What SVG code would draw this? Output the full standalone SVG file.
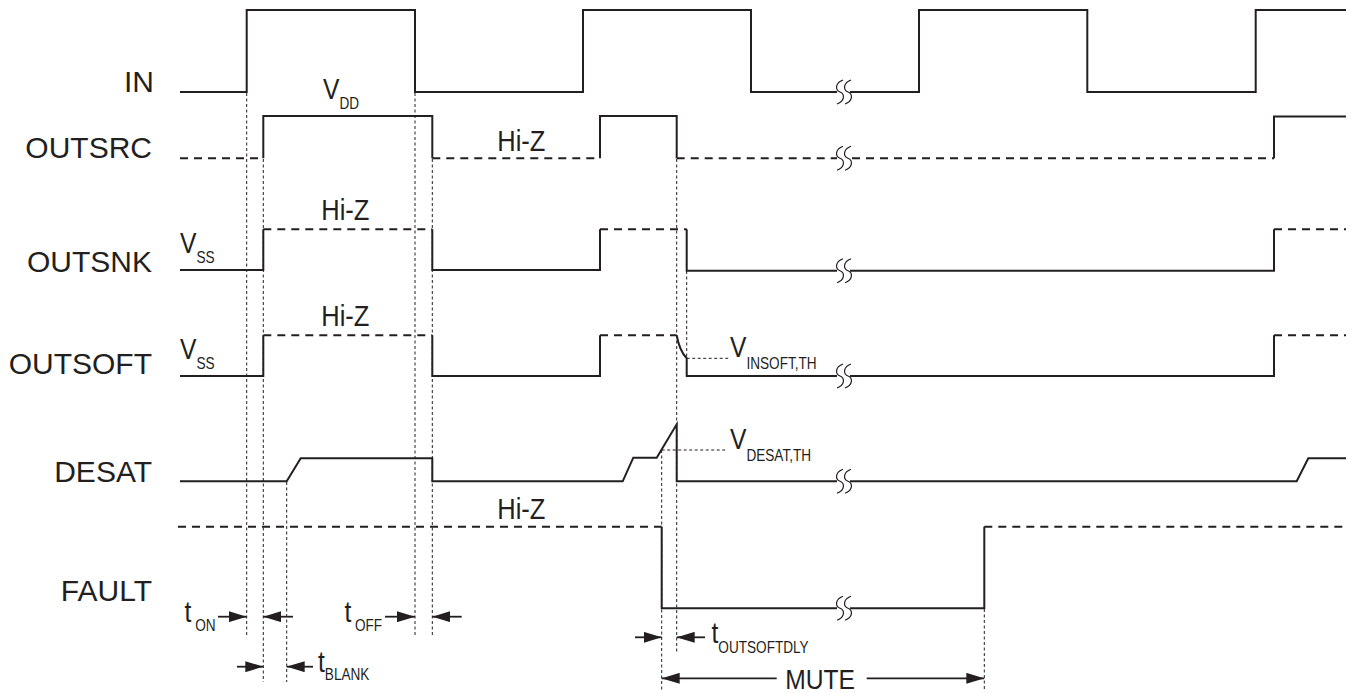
<svg xmlns="http://www.w3.org/2000/svg" width="1351" height="693" viewBox="0 0 1351 693">
<style>
.sig{fill:none;stroke:#231f20;stroke-width:2;stroke-linejoin:miter}
.dash{fill:none;stroke:#231f20;stroke-width:2;stroke-dasharray:8 6}
.dot{fill:none;stroke:#231f20;stroke-width:1;stroke-dasharray:3 2.5}
.brk{fill:none;stroke:#231f20;stroke-width:1.2}
.arr{fill:none;stroke:#231f20;stroke-width:1.8;marker-end:url(#ah)}
.lbl{font-family:"Liberation Sans",Arial,sans-serif;font-size:30px;fill:#231f20;text-anchor:end}
.sym{font-family:"Liberation Sans",Arial,sans-serif;font-size:29px;fill:#231f20}
.hz{font-family:"Liberation Sans",Arial,sans-serif;font-size:30px;fill:#231f20}
.sub{font-size:16px}
</style>
<defs>
<marker id="ah" markerUnits="userSpaceOnUse" markerWidth="18" markerHeight="11" refX="18" refY="5.5" orient="auto"><path d="M0,0 L18,5.5 L0,11 z" fill="#231f20"/></marker>
<path id="brk" class="brk" d="M3,-12 C-5,-9 -5,-2 0,0 S5,9 -3,12"/>
</defs>
<rect width="1351" height="693" fill="#fff"/>

<g id="connectors">
<path class="dot" d="M246.7,93 V635 M263.3,159 V682 M286.7,482 V682 M415,93 V636 M432.3,159 V636 M676.7,159 V652 M686.7,271 V358.3 M661.7,450 V690 M984.3,609 V690"/>
<path class="dot" d="M686.7,358.3 H730 M661.7,450 H727"/>
<path class="arr" d="M218,616.7 H246.7"/>
<path class="arr" d="M293,616.7 H263.3"/>
<path class="arr" d="M385,616.7 H415"/>
<path class="arr" d="M461.7,616.7 H432.3"/>
<path class="arr" d="M237,666.7 H263.3"/>
<path class="arr" d="M313,666.7 H286.7"/>
<path class="arr" d="M635,637.3 H661.7"/>
<path class="arr" d="M705,637.3 H676.7"/>
<path class="arr" d="M776.7,678.3 H661.7"/>
<path class="arr" d="M866.7,678.3 H984.3"/>
<text class="sym" transform="translate(184.5,621.7) scale(0.85,1)">t<tspan class="sub" dx="4.5" dy="9">ON</tspan></text>
<text class="sym" transform="translate(344.5,621.7) scale(0.85,1)">t<tspan class="sub" dx="4.3" dy="9">OFF</tspan></text>
<text class="sym" transform="translate(318,671.7) scale(0.85,1)">t<tspan class="sub" dy="8.5">BLANK</tspan></text>
<text class="sym" transform="translate(711.5,643.3) scale(0.85,1)">t<tspan class="sub" dy="9.5">OUTSOFTDLY</tspan></text>
<text class="sym" transform="translate(785.2,689.3) scale(0.88,1)" style="font-size:28px">MUTE</text>
</g>

<g id="IN">
<text class="lbl" x="154" y="92">IN</text>
<path class="sig" d="M180,92 H246.7 V10 H415 V92 H583 V10 H751 V92 H837"/>
<path class="sig" d="M850,92 H919 V10 H1087.3 V92 H1255.7 V10 H1346"/>
<use href="#brk" x="840" y="92"/><use href="#brk" x="848" y="92"/>
</g>

<g id="OUTSRC">
<text class="lbl" x="152" y="158">OUTSRC</text>
<path class="dash" d="M180,158.3 H263.3"/>
<path class="sig" d="M263.3,158.3 V116 H432.3 V158.3"/>
<path class="dash" d="M432.3,158.3 H600"/>
<path class="sig" d="M600,158.3 V116 H676.7 V158.3"/>
<path class="dash" d="M676.7,158.3 H837"/>
<path class="dash" d="M852,158.3 H1274"/>
<path class="sig" d="M1274,158.3 V116.5 H1346"/>
<use href="#brk" x="840" y="158.3"/><use href="#brk" x="848" y="158.3"/>
<text class="sym" transform="translate(323,99.3) scale(0.85,1)">V<tspan class="sub" dy="10">DD</tspan></text>
<text class="hz" transform="translate(497.3,150.7) scale(0.85,1)">Hi-Z</text>
</g>

<g id="OUTSNK">
<text class="lbl" x="152" y="272">OUTSNK</text>
<path class="sig" d="M180,270 H263.3 V229.3"/>
<path class="dash" d="M263.3,229.3 H432.3"/>
<path class="sig" d="M432.3,229.3 V270 H600 V229.3"/>
<path class="dash" d="M600,229.3 H686.7"/>
<path class="sig" d="M686.7,229.3 V270.7 H837"/>
<path class="sig" d="M850,270.7 H1274 V229.3"/>
<path class="dash" d="M1274,229.3 H1346"/>
<use href="#brk" x="840" y="270.7"/><use href="#brk" x="848" y="270.7"/>
<text class="sym" transform="translate(180,253.3) scale(0.85,1)">V<tspan class="sub" dy="9.5">SS</tspan></text>
<text class="hz" transform="translate(321.3,220) scale(0.85,1)">Hi-Z</text>
</g>

<g id="OUTSOFT">
<text class="lbl" x="152" y="374">OUTSOFT</text>
<path class="sig" d="M180,376 H263.3 V335.3"/>
<path class="dash" d="M263.3,335.3 H432.3"/>
<path class="sig" d="M432.3,335.3 V376 H600 V335.3"/>
<path class="dash" d="M600,335.3 H676.7"/>
<path class="sig" d="M676.7,335.3 Q679.5,351 686.7,358.3 V376 H837"/>
<path class="sig" d="M850,376 H1274 V335.3"/>
<path class="dash" d="M1274,335.3 H1346"/>
<use href="#brk" x="840" y="376"/><use href="#brk" x="848" y="376"/>
<text class="sym" transform="translate(180,359.3) scale(0.85,1)">V<tspan class="sub" dy="10">SS</tspan></text>
<text class="hz" transform="translate(321.3,326) scale(0.85,1)">Hi-Z</text>
<text class="sym" transform="translate(730,357.3) scale(0.85,1)">V<tspan class="sub" dy="12">INSOFT,TH</tspan></text>
</g>

<g id="DESAT">
<text class="lbl" x="152" y="481.5">DESAT</text>
<path class="sig" d="M180,481.3 H286.7 L300.7,458.3 H432.3 V481.3 H622.7 L633.3,457.7 H656.7 L676.7,424.3 V481.3 H837"/>
<path class="sig" d="M850,481.3 H1296.7 L1308.3,458.3 H1346"/>
<use href="#brk" x="840" y="481.3"/><use href="#brk" x="848" y="481.3"/>
<text class="sym" transform="translate(730,449.3) scale(0.85,1)">V<tspan class="sub" dy="12">DESAT,TH</tspan></text>
</g>

<g id="FAULT">
<text class="lbl" x="152" y="600.5">FAULT</text>
<path class="dash" d="M178,526.7 H661.7"/>
<path class="sig" d="M661.7,526.7 V608.3 H837"/>
<path class="sig" d="M850,608.3 H984.3 V526.7"/>
<path class="dash" d="M984.3,526.7 H1346"/>
<use href="#brk" x="840" y="608.3"/><use href="#brk" x="848" y="608.3"/>
<text class="hz" transform="translate(497.3,519) scale(0.85,1)">Hi-Z</text>
</g>
</svg>
